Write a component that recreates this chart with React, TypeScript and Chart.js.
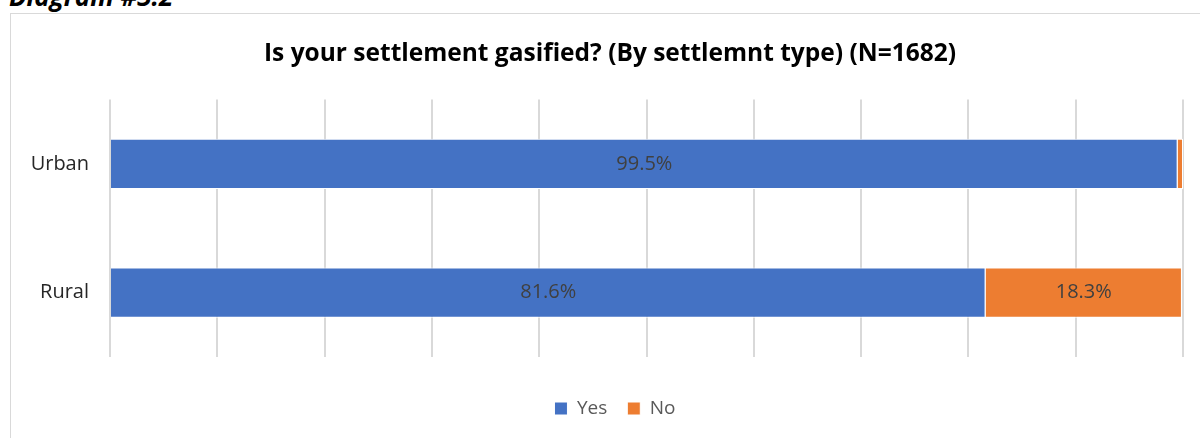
import React, { useEffect, useRef } from "react";
import { Chart, registerables } from "chart.js";

Chart.register(...registerables);

const categories = ["Urban", "Rural"];
const yesValues = [99.5, 81.6];
const noValues = [0.5, 18.3];
const seriesNames = ["Yes", "No"];
const xTicksMax = 100;
const xTickStep = 10;
const titleText = "Is your settlement gasified? (By settlemnt type) (N=1682)";
const headingText = "Diagram #3.2";

const FONT = "'Open Sans', 'Noto Sans', sans-serif";

const valueLabelPlugin = {
  id: "valueLabels",
  afterDatasetsDraw(chart: any) {
    const ctx = chart.ctx;
    ctx.save();
    ctx.font = `20px ${FONT}`;
    ctx.fillStyle = "#404040";
    ctx.textAlign = "center";
    ctx.textBaseline = "middle";
    chart.data.datasets.forEach((ds: any, di: number) => {
      const meta = chart.getDatasetMeta(di);
      meta.data.forEach((bar: any, i: number) => {
        const v = ds.data[i];
        if (v < 3) return;
        const cx = (bar.x + bar.base) / 2;
        ctx.fillText(v.toFixed(1) + "%", cx, bar.y);
      });
    });
    ctx.restore();
  },
};

// Nudge title and legend horizontally to match the reference centering
const shiftPlugin = {
  id: "shiftBlocks",
  afterLayout(chart: any) {
    if (chart.titleBlock) {
      chart.titleBlock.left += 13;
      chart.titleBlock.right += 13;
    }
    if (chart.legend) {
      chart.legend.left += 18;
      chart.legend.right += 18;
    }
  },
};

export default function App() {
  const ref = useRef<HTMLCanvasElement>(null);
  useEffect(() => {
    if (!ref.current) return;
    const chart = new Chart(ref.current, {
      type: "bar",
      data: {
        labels: categories,
        datasets: [
          {
            label: seriesNames[0],
            data: yesValues,
            backgroundColor: "#4472C4",
            borderColor: "#ffffff",
            borderWidth: 1,
            barPercentage: 0.39,
            categoryPercentage: 1,
          },
          {
            label: seriesNames[1],
            data: noValues,
            backgroundColor: "#ED7D31",
            borderColor: "#ffffff",
            borderWidth: 1,
            barPercentage: 0.39,
            categoryPercentage: 1,
          },
        ],
      },
      options: {
        indexAxis: "y",
        animation: false,
        responsive: false,
        maintainAspectRatio: false,
        layout: { padding: { left: 0, right: 16, top: 0, bottom: 10 } },
        plugins: {
          title: {
            display: true,
            text: titleText,
            color: "#000000",
            font: { family: FONT, size: 24.5, weight: "bold" },
            padding: { top: 25, bottom: 31 },
          },
          legend: {
            display: true,
            position: "bottom",
            labels: {
              color: "#595959",
              font: { family: FONT, size: 19 },
              boxWidth: 13,
              boxHeight: 13,
              padding: 20,
            },
          },
          tooltip: { enabled: false },
        },
        scales: {
          x: {
            stacked: true,
            min: 0,
            max: xTicksMax,
            ticks: { display: false, stepSize: xTickStep },
            grid: { color: "#d9d9d9", lineWidth: 2, drawTicks: false },
            border: { display: false },
            afterFit: (scale: any) => {
              scale.height = 22;
            },
          },
          y: {
            stacked: true,
            ticks: {
              color: "#262626",
              font: { family: FONT, size: 20 },
              padding: 13,
            },
            grid: { display: false },
            border: { display: false },
            afterFit: (scale: any) => {
              scale.width = 99;
            },
          },
        },
      },
      plugins: [valueLabelPlugin, shiftPlugin],
    });
    return () => chart.destroy();
  }, []);

  return (
    <div
      style={{
        position: "fixed",
        left: 0,
        top: 0,
        width: 1200,
        height: 438,
        overflow: "hidden",
        background: "#ffffff",
      }}
    >
      <div
        style={{
          position: "absolute",
          left: 9,
          top: -22,
          fontFamily: FONT,
          fontWeight: "bold",
          fontStyle: "italic",
          fontSize: 26,
          color: "#000",
          whiteSpace: "nowrap",
        }}
      >
        {headingText}
      </div>
      <div
        style={{
          position: "absolute",
          left: 10,
          top: 13,
          width: 1200,
          height: 440,
          border: "1px solid #d9d9d9",
          boxSizing: "border-box",
        }}
      />
      <canvas
        ref={ref}
        width={1188}
        height={424}
        style={{ position: "absolute", left: 11, top: 14, width: 1188, height: 424 }}
      />
    </div>
  );
}
